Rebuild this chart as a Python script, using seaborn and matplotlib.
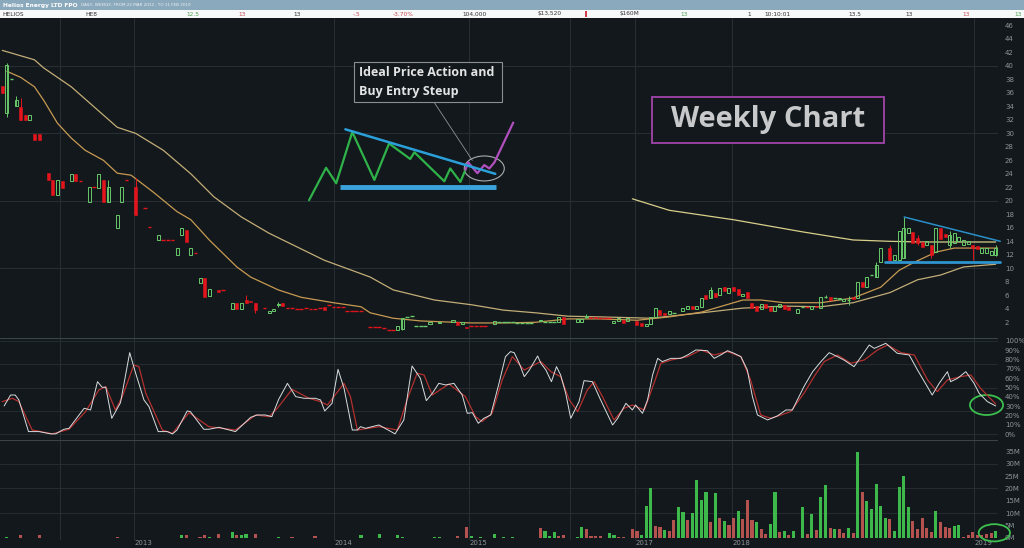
import matplotlib
matplotlib.use("Agg")
import matplotlib.pyplot as plt
from matplotlib.patches import Rectangle, Ellipse
import seaborn as sns

# ==========================
#  DATA (weekly bars, prices in $, volume in millions)
# ==========================
candle_wk = [0, 1, 2, 3, 4, 5, 6, 7, 8, 10, 11, 12, 13, 15, 16, 17, 19, 20, 21, 22, 23, 25, 26, 27, 29,
             31, 32, 34, 35, 36, 37, 38, 39, 40, 41, 42, 43, 44, 45, 47, 48, 50, 51, 52, 53, 54, 55, 57, 58, 59, 60, 61,
             62, 63, 64, 65, 66, 67, 68, 69, 70, 71, 72, 73, 74, 75, 76, 77, 78, 80, 81, 82,
             83, 84, 85, 86, 87, 88, 89, 90, 91, 92, 93, 95, 98, 99, 100, 101,
             102, 103, 104, 105, 107, 108, 109, 110, 111, 112, 113, 114, 115, 117, 118, 119, 120, 121, 122, 125,
             126, 127, 128, 129, 130, 131, 132, 133, 134, 135, 136,
             138, 139, 140, 141, 142, 143, 144, 145, 146, 148, 149, 150, 151, 152, 153, 154, 155, 156, 157, 158,
             159, 160, 161, 162, 163, 164, 165, 166, 167, 168, 169, 170, 171,
             173, 174, 175, 176, 177, 178, 179, 180, 181, 182, 183, 184, 185, 186, 187, 188, 189, 190, 191, 193,
             194, 195, 196, 197, 198, 199, 200, 201, 202, 203, 204, 205, 206, 207, 208, 209, 210, 211, 212, 213,
             214, 215, 216]
candle_open = [37.0, 33.0, 38.0, 34.0, 33.9, 32.7, 32.0, 29.9, 29.9, 24.1, 23.1, 20.8, 22.9, 22.9, 24.0, 22.95, 19.8,
               22.05, 21.9, 23.1, 19.9, 16.0, 19.9, 23.15, 22.0,
               18.95, 16.05, 14.2, 14.15, 14.15, 14.15, 12.0, 14.9, 15.7, 12.0, 12.25, 7.8, 8.6, 5.9, 6.8, 6.85,
               4.0, 4.9, 4.0, 5.3, 5.2, 4.9, 4.05, 3.4, 3.6, 4.5, 4.9,
               4.05, 4.05, 3.95, 3.95, 4.05, 3.95, 3.95, 4.05, 4.2, 4.6, 4.3, 4.3, 4.3, 3.6, 3.6, 3.6, 3.6,
               1.35, 1.35, 1.35, 1.1, 0.8, 0.8, 0.9, 1.0, 2.8, 2.9, 1.5, 1.5, 1.5, 1.8, 1.9, 2.1, 2.0, 1.8, 1.3,
               1.5, 1.5, 1.5, 1.5, 1.8, 2.0, 2.0, 2.0, 2.0, 1.9, 1.9, 1.9, 1.9, 2.2, 2.1, 2.1, 2.1, 2.0, 2.8, 2.0,
               2.1, 2.8, 2.85, 2.85, 2.6, 2.6, 2.6, 1.9, 2.2, 2.4, 2.2,
               2.2, 1.9, 1.4, 1.7, 2.8, 3.8, 3.4, 3.2, 3.4, 3.6, 4.0, 4.4, 4.0, 4.3, 6.0, 5.6, 6.3, 6.0, 7.2, 6.3,
               7.2, 6.9, 5.9, 6.5, 4.8, 4.4, 4.0, 4.7, 4.2, 3.6, 4.3, 4.6, 4.3,
               3.4, 4.3, 4.3, 4.0, 4.4, 4.1, 5.8, 5.8, 5.6, 5.4, 5.2, 5.3, 5.8, 5.6, 8.0, 7.2, 9.0, 8.7, 11.0, 13.0,
               11.2, 11.2, 11.5, 15.2, 15.4, 14.5, 13.9, 13.5, 13.4, 12.4, 15.9, 15.1, 13.5, 13.8, 14.0, 13.5,
               13.6, 13.4, 13.3, 12.2, 12.2, 12.0, 12.0]
candle_close = [36.0, 40.1, 38.05, 35.0, 32.0, 32.0, 32.7, 29.0, 29.0, 23.1, 20.8, 23.1, 21.9, 24.0, 22.9, 22.9, 22.0,
                22.0, 24.0, 19.9, 22.0, 17.9, 22.0, 23.1, 17.9,
                18.9, 16.0, 15.0, 14.1, 14.1, 14.1, 13.0, 16.0, 13.9, 13.0, 12.2, 8.6, 5.8, 6.9, 6.5, 6.8,
                4.9, 4.0, 4.9, 4.9, 5.0, 3.8, 4.0, 3.6, 4.0, 4.7, 4.4,
                4.0, 4.0, 3.9, 3.9, 4.0, 3.9, 3.9, 4.0, 3.8, 4.5, 4.25, 4.25, 4.25, 3.55, 3.55, 3.55, 3.55,
                1.3, 1.3, 1.3, 1.0, 0.75, 0.75, 1.5, 2.6, 2.85, 2.95, 1.55, 1.55, 1.55, 2.0, 2.1, 2.3, 1.6, 2.0, 1.1,
                1.45, 1.45, 1.45, 1.45, 2.2, 2.05, 2.05, 2.05, 2.05, 1.95, 1.95, 1.95, 1.95, 2.4, 2.15, 2.15, 2.15,
                2.8, 1.8, 2.5,
                2.5, 2.95, 2.7, 2.7, 2.55, 2.55, 2.55, 2.2, 2.6, 1.9, 2.6,
                1.6, 1.5, 1.7, 2.8, 4.1, 3.1, 3.1, 3.7, 3.45, 4.1, 4.4, 4.0, 4.4, 5.6, 5.4, 6.8, 5.7, 7.1, 6.6, 7.1,
                6.6, 6.0, 6.2, 5.6, 4.1, 3.7, 4.7, 4.1, 3.7, 4.4, 4.7, 3.9, 3.8,
                4.0, 4.35, 4.25, 4.4, 4.2, 5.7, 5.85, 5.3, 5.65, 5.6, 5.4, 5.35, 5.4, 8.0, 7.3, 8.7, 9.05, 10.5,
                13.0, 11.2,
                12.0, 15.6, 16.0, 15.9, 13.7, 13.8, 13.2, 14.0, 12.0, 15.9, 14.4, 14.6, 15.0, 15.3, 14.7, 14.2,
                14.0, 13.0, 12.8, 13.0, 13.0, 12.5, 13.0]

wick_wk = [1, 3, 4, 23, 29, 53, 55, 60, 87, 127, 154, 179, 184, 190, 193, 196, 199, 202, 206, 211, 216]
wick_hi = [40.5, 35.5, 35.2, 23.1, 23.4, 6.0, 4.9, 5.0, 2.6, 3.3, 7.3, 6.0, 5.9, 10.9, 13.5, 17.6, 15.0, 13.4,
           15.5, 13.4, 13.5]
wick_lo = [32.5, 34.0, 32.0, 19.9, 17.9, 4.9, 3.4, 4.3, 0.9, 2.6, 5.6, 5.6, 4.6, 8.7, 11.0, 11.5, 13.5, 11.5,
           13.0, 11.2, 11.8]

ma_fast_wk = [1, 4, 7, 9, 12, 15, 18, 22, 25, 28, 33, 38, 41, 45, 51, 54, 60, 65, 72, 78, 80, 85, 91, 102,
              109, 116, 123, 130, 138, 145, 152, 158, 161, 165, 170, 178, 185, 191, 195, 198, 203, 207, 212, 217]
ma_fast = [39.2, 38.3, 36.9, 34.9, 31.5, 29.3, 27.5, 26.0, 24.1, 23.8, 21.2, 18.4, 17.2, 14.2, 10.2, 8.7, 6.8,
           5.7, 4.9, 4.3, 3.4, 2.6, 2.2, 1.9, 1.9, 2.0, 2.5, 2.5, 2.3, 2.8, 3.5, 4.7, 5.3, 5.3, 4.9, 4.9, 5.6,
           7.2, 9.7, 10.8, 12.4, 13.0, 13.0, 13.0]
ma_slow_wk = [0, 7, 9, 15, 20, 25, 29, 35, 41, 46, 52, 58, 64, 70, 76, 80, 85, 94, 102, 109, 116, 123, 130,
              141, 152, 161, 170, 178, 185, 193, 199, 204, 209, 216]
ma_slow = [42.3, 40.9, 39.7, 36.9, 33.9, 30.9, 30.0, 27.5, 24.0, 20.6, 17.6, 15.2, 13.2, 11.2, 9.7, 8.7, 6.8,
           5.3, 4.6, 3.8, 3.4, 2.9, 2.8, 2.6, 3.4, 4.1, 4.4, 4.3, 4.9, 6.4, 8.3, 9.0, 10.2, 10.6]
ma_long_wk = [137, 145, 159, 174, 185, 193, 200, 207, 216]
ma_long = [20.3, 18.6, 17.2, 15.4, 14.2, 14.0, 13.9, 13.9, 13.9]

stoch_k_wk = [0.4, 1.8, 2.8, 3.6, 5.7, 8.0, 10.5, 11.6, 13.4, 14.5,
              17.8, 19.2, 20.7, 21.7, 22.5, 23.8, 25.7, 27.7, 29.0, 30.8,
              31.9, 33.9, 35.9, 37.0, 38.0, 40.2, 40.9, 43.8, 44.9, 47.1,
              50.7, 54.0, 55.4, 57.2, 58.6, 60.1, 62.0, 63.8, 65.6, 68.1,
              69.2, 70.1, 71.7, 73.0, 74.3, 76.1, 77.2, 77.9, 79.0, 80.4,
              81.9, 85.4, 87.3, 89.1, 90.9, 92.2, 93.5, 94.9, 96.4, 98.2,
              100.0, 101.1, 102.2, 103.5, 104.7, 106.2, 108.0, 109.4, 110.5, 111.3,
              112.4, 113.5, 114.6, 116.4, 117.1, 118.2, 119.4, 120.5, 121.4, 122.5,
              123.6, 125.4, 126.5, 128.3, 130.1, 132.7, 133.8, 135.6, 137.0, 137.7,
              139.2, 140.3, 141.4, 142.5, 143.5, 145.4, 147.5, 149.0, 150.8, 153.3,
              154.8, 156.2, 157.7, 159.1, 160.6, 162.0, 163.1, 164.2, 166.4, 168.5,
              170.4, 171.8, 174.3, 176.2, 178.0, 179.8, 181.6, 183.0, 185.2, 187.0,
              188.5, 189.6, 192.1, 194.6, 197.2, 199.0, 202.2, 203.7, 205.5, 206.2,
              207.7, 209.5, 211.3, 212.4, 214.2, 216.0]
stoch_k = [30.4, 42.1, 42.1, 36.8, 2.9, 2.9, 0.5, 0.5, 5.4, 6.4,
           27.9, 26.1, 56.4, 50.4, 50.4, 17.1, 33.9, 87.5, 65.4, 36.8,
           29.6, 2.9, 2.9, 0.4, 4.6, 25.0, 24.3, 5.4, 5.4, 7.5,
           2.9, 18.2, 20.7, 20.7, 18.9, 37.5, 54.6, 40.4, 38.6, 38.6,
           36.8, 25.0, 33.2, 69.6, 49.3, 4.6, 4.6, 8.2, 6.4, 8.2,
           10.0, 0.5, 15.4, 73.2, 60.0, 36.1, 43.9, 54.6, 52.9, 54.6,
           42.1, 22.5, 23.2, 11.8, 17.1, 20.7, 54.6, 83.2, 88.6, 87.5,
           76.1, 61.8, 68.9, 83.9, 76.1, 68.9, 56.4, 72.5, 63.6, 43.9,
           17.1, 35.0, 57.5, 56.4, 36.8, 10.0, 17.1, 33.2, 26.1, 31.4,
           22.5, 36.8, 63.6, 81.4, 77.9, 81.4, 81.4, 85.0, 90.4, 89.6,
           81.4, 85.0, 89.6, 86.8, 83.2, 68.9, 40.4, 20.7, 15.4, 19.6,
           26.1, 26.1, 51.1, 67.1, 77.9, 87.5, 83.2, 79.6, 72.5, 85.0,
           95.7, 92.1, 97.5, 86.8, 85.0, 68.9, 42.1, 54.6, 67.1, 56.4,
           60.0, 67.1, 54.6, 43.9, 35.0, 30.4]
stoch_d_wk = [0, 2.2, 3.6, 6.5, 10.9, 14.5, 18.1, 21.0, 22.5, 24.6,
              26.1, 28.6, 29.7, 31.2, 34.8, 37.0, 40.6, 44.9, 50.7, 55.1,
              58.0, 59.8, 63.0, 66.7, 69.2, 70.7, 74.3, 75.7, 77.2, 81.9,
              85.9, 88.0, 90.2, 91.7, 93.5, 97.1, 100.7, 102.9, 104.3, 106.5,
              108.7, 110.9, 113.5, 115.6, 117.1, 119.3, 121.4, 123.3, 125.1, 127.2,
              128.7, 130.5, 133.0, 135.2, 137.0, 139.6, 141.7, 143.2, 145.4, 149.0,
              151.9, 154.8, 157.7, 160.6, 162.7, 164.9, 167.1, 169.3, 171.4, 174.3,
              176.5, 178.7, 181.6, 184.5, 187.4, 190.3, 192.5, 195.4, 198.3, 201.2,
              203.3, 205.5, 208.4, 210.6, 212.7, 216.0]
stoch_d = [35.0, 38.6, 35.0, 4.6, 0.5, 5.4, 24.3, 47.5, 51.1, 26.1,
           40.4, 74.3, 72.5, 43.9, 4.6, 1.1, 23.2, 8.2, 4.6, 20.7,
           18.9, 27.9, 48.2, 38.6, 35.0, 31.4, 54.6, 40.4, 4.6, 8.2,
           4.6, 36.8, 65.4, 63.6, 42.1, 53.9, 40.4, 18.9, 13.6, 22.5,
           58.2, 83.2, 68.9, 74.3, 77.9, 67.1, 61.8, 36.8, 24.3, 47.5,
           56.4, 40.4, 15.4, 27.9, 31.4, 26.1, 54.6, 76.1, 79.6, 83.2,
           90.4, 85.0, 88.6, 83.2, 58.2, 20.7, 17.1, 20.7, 24.3, 43.9,
           61.8, 77.9, 85.0, 76.1, 79.6, 90.4, 95.7, 87.5, 85.0, 58.2,
           45.7, 58.2, 61.8, 63.6, 49.3, 32.5]

vol_wk = [1, 4, 8, 25, 39, 40, 43, 44, 45, 47, 50, 51, 52, 53, 55, 60, 63, 68, 78, 82, 86, 87, 94, 95, 99,
          101, 102, 104, 107, 109, 111,
          117, 118, 119, 120, 121, 122, 125, 126, 127, 128, 129, 130, 132, 133, 134, 135, 137, 138, 139,
          140, 141, 142, 143, 144, 145, 146, 147, 148, 149, 150, 151, 152, 153, 154, 155, 156, 157, 158, 159,
          160, 161, 162, 163, 164, 165, 166, 167, 168, 169, 170, 171, 172, 174, 175, 176, 177, 178, 179, 180,
          181, 182, 183, 184, 185, 186, 187, 188, 189, 190, 191, 192, 193, 194, 195, 196, 197, 198, 199, 200,
          201, 202, 203, 204, 205, 206, 207, 208, 209, 210, 211, 212, 213, 214, 215, 216]
vol_m = [0.3, 1.1, 1.1, 0.3, 1.1, 1.1, 0.3, 1.1, 0.2, 1.6, 2.3, 1.1, 1.1, 1.4, 1.6, 0.3, 0.3, 0.7, 1.1, 1.6,
         1.1, 0.3, 0.4, 0.4, 0.7, 4.4, 0.7, 0.4, 1.6, 0.4, 0.4,
         3.8, 2.7, 0.7, 2.3, 0.7, 1.0, 0.3, 4.4, 3.7, 0.7, 0.7, 0.7, 1.9, 1.0, 0.3, 0.3, 3.7, 2.7, 1.1,
         12.7, 20.1, 4.8, 4.4, 3.0, 2.7, 7.1, 12.3, 10.3, 7.1, 9.9, 23.6, 15.3, 18.5, 6.4, 18.2, 8.2, 6.6, 5.1,
         8.2, 11.0, 7.5, 15.3, 7.1, 6.4, 3.7, 1.4, 5.5, 18.5, 2.3, 2.7, 1.1, 2.7, 12.3, 1.6, 9.6, 3.0, 16.4,
         21.6, 4.1, 3.4, 3.7, 2.1, 3.8, 2.1, 34.7, 18.5, 14.8, 11.6, 21.9, 12.7, 8.2, 7.8, 2.7, 20.5, 24.9,
         12.6, 6.6, 3.7, 8.2, 3.8, 2.3, 11.0, 6.4, 4.4, 3.8, 4.8, 5.2, 0.2, 1.1, 2.3, 1.1, 1.1, 1.6, 2.1, 2.7]
vol_up = [1, 0, 0, 0, 1, 0, 0, 0, 1, 0, 1, 0, 1, 1, 0, 1, 0, 0, 1, 1, 1, 1, 1, 1, 0, 0, 1, 1, 1, 1, 1,
          0, 1, 1, 1, 0, 0, 1, 1, 0, 0, 0, 0, 1, 1, 0, 0, 0, 0, 1,
          1, 1, 0, 0, 1, 0, 0, 1, 1, 0, 1, 1, 1, 1, 0, 1, 0, 1, 0, 0,
          1, 0, 0, 0, 1, 0, 0, 1, 1, 0, 1, 0, 1, 1, 0, 1, 0, 1, 1, 0,
          1, 0, 0, 1, 0, 1, 0, 1, 1, 1, 1, 1, 0, 1, 1, 1, 1, 0, 0, 0,
          0, 0, 1, 0, 0, 0, 1, 1, 0, 0, 0, 0, 0, 0, 0, 1]

year_pos = [12.6, 28.7, 72.2, 101.5, 123.5, 137.6, 158.7, 211.3]
year_lab = ["", "2013", "2014", "2015", "", "2017", "2018", "2019"]

# hand-drawn "ideal setup" sketch on the chart (week, price)
sketch_green_wk = [66.7, 70.4, 72.6, 76.1, 80.9, 84.1, 88.7, 89.6, 96.1, 97.4, 99.6, 100.7]
sketch_green_p = [20.1, 24.9, 22.6, 30.2, 23.1, 28.5, 26.2, 27.2, 22.9, 24.8, 22.8, 24.6]
sketch_purple_wk = [100.7, 101.3, 103.3, 104.8, 105.9, 107.0, 111.1]
sketch_purple_p = [24.6, 25.7, 24.1, 25.3, 24.8, 25.7, 31.6]

header_labels = ["HELIOS", "HE8", "12.5", "13", "13", "-.5", "-3.70%", "104,000", "$13,520", "$160M",
                 "13", "1", "10:10:01", "13.5", "13", "13", "13"]
header_colors = ["#333", "#333", "#4f9f4f", "#c84a55", "#333", "#c84a55", "#c84a55", "#333", "#333", "#333",
                 "#4f9f4f", "#333", "#333", "#333", "#333", "#c84a55", "#4f9f4f"]
header_x = [2, 85, 186, 238, 293, 353, 393, 462, 538, 620, 680, 747, 764, 848, 905, 962, 1014]

assert len(candle_wk) == len(candle_open) == len(candle_close)
assert len(vol_wk) == len(vol_m) == len(vol_up)

# ==========================
#  STYLE
# ==========================
BG = "#12181b"
GRID = "#283035"
TXT = "#8d9498"
GREEN = "#67c96a"
RED = "#e3141c"
VGREEN = "#3db94c"
VRED = "#b4524f"

sns.set_style("dark", {"axes.facecolor": BG, "figure.facecolor": BG})
plt.rcParams["font.family"] = ["DejaVu Sans"]

W, H = 1024, 548
fig = plt.figure(figsize=(W / 100, H / 100), dpi=100, facecolor=BG)


def panel(top, bottom):
    return [0, 1 - bottom / H, 998 / W, (bottom - top) / H]


ax_p = fig.add_axes(panel(18, 338))
ax_s = fig.add_axes(panel(338, 440), sharex=ax_p)
ax_v = fig.add_axes(panel(440, 540), sharex=ax_p)

for ax in (ax_p, ax_s, ax_v):
    ax.set_facecolor(BG)
    for s in ax.spines.values():
        s.set_visible(False)
    ax.yaxis.tick_right()
    ax.tick_params(axis="y", length=0, labelsize=5, labelcolor=TXT, pad=5)
    ax.tick_params(axis="x", length=0, labelsize=5, labelcolor=TXT, pad=0)
    for xp in year_pos:
        ax.axvline(xp, color=GRID, lw=0.7, zorder=0)
    ax.grid(False)
ax_s.axhline(103.2, color="#3a4347", lw=0.8)
ax_v.axhline(39.7, color="#3a4347", lw=0.8)

# ==========================
#  PRICE PANEL
# ==========================
ax_p.set_xlim(-0.5, 216.5)
ax_p.set_ylim(-0.33, 47.1)
ax_p.set_yticks(range(2, 47, 2))
ax_p.tick_params(labelbottom=False)
for lvl in (10, 20, 30, 40):
    ax_p.axhline(lvl, color=GRID, lw=0.7, zorder=0)

sns.lineplot(x=ma_slow_wk, y=ma_slow, ax=ax_p, color="#c3ad78", lw=0.9, sort=False, estimator=None)
sns.lineplot(x=ma_fast_wk, y=ma_fast, ax=ax_p, color="#c79a52", lw=0.9, sort=False, estimator=None)
sns.lineplot(x=ma_long_wk, y=ma_long, ax=ax_p, color="#d8cf8a", lw=0.9, sort=False, estimator=None)

colour_of = {}
for w, o, c in zip(candle_wk, candle_open, candle_close):
    col = GREEN if c >= o else RED
    colour_of[w] = col
    if abs(c - o) < 0.12:
        ax_p.hlines(o, w - 0.42, w + 0.42, color=col, lw=1.0, zorder=3)
    elif c > o:
        ax_p.add_patch(Rectangle((w - 0.33, o), 0.66, c - o, facecolor="none", edgecolor=col, lw=0.7, zorder=3))
    else:
        ax_p.add_patch(Rectangle((w - 0.33, c), 0.66, o - c, facecolor=col, edgecolor=col, lw=0.4, zorder=3))
ax_p.vlines(wick_wk, wick_lo, wick_hi, colors=[colour_of[w] for w in wick_wk], lw=0.7, zorder=2)

# ideal set-up sketch
sns.lineplot(x=sketch_green_wk, y=sketch_green_p, ax=ax_p, color="#2fb24a", lw=1.6, sort=False, estimator=None)
sns.lineplot(x=sketch_purple_wk, y=sketch_purple_p, ax=ax_p, color="#b24fc0", lw=1.6, sort=False, estimator=None)
ax_p.plot([74.6, 107.2], [30.6, 24.0], color="#2a9fd8", lw=1.8)
ax_p.plot([73.5, 107.4], [22.0, 22.0], color="#3aa3dc", lw=3.5, solid_capstyle="butt")
ax_p.add_patch(Ellipse((104.8, 24.8), 8.7, 3.7, fill=False, edgecolor="#a9adb0", lw=0.8))
ax_p.plot([93.9, 102.2], [34.6, 26.0], color="#8f9498", lw=0.6)
ax_p.add_patch(Rectangle((76.5, 34.6), 32.2, 6.0, facecolor=BG, edgecolor="#8a8f92", lw=0.8, zorder=4))
ax_p.text(77.6, 37.6, "Ideal Price Action and\nBuy Entry Steup", fontsize=9, fontweight="bold",
          family=["Open Sans", "DejaVu Sans"], color="#e2e4e5", va="center", ha="left",
          linespacing=1.55, zorder=5)

# right-hand triangle
ax_p.plot([196.1, 217.0], [17.6, 14.0], color="#2a8fc8", lw=1.1, clip_on=False)
ax_p.plot([192.0, 217.0], [10.9, 10.9], color="#2f95cf", lw=2.0, clip_on=False)

# Weekly chart label
ax_p.add_patch(Rectangle((141.3, 28.6), 50.4, 6.8, facecolor=BG, edgecolor="#a444ac", lw=1.3, zorder=4))
ax_p.text(166.5, 32.0, "Weekly Chart", fontsize=21, fontweight="bold", family=["Open Sans", "DejaVu Sans"],
          color="#c8c9ca", ha="center", va="center", zorder=5)

# ==========================
#  STOCHASTIC PANEL
# ==========================
ax_s.set_ylim(-6.1, 103.2)
ax_s.set_yticks(range(0, 101, 10))
ax_s.set_yticklabels([f"{v}%" for v in range(0, 101, 10)])
ax_s.tick_params(labelbottom=False)
for lvl in (0, 25, 50, 75, 100):
    ax_s.axhline(lvl, color=GRID, lw=0.6, zorder=0)
sns.lineplot(x=stoch_d_wk, y=stoch_d, ax=ax_s, color="#b3302f", lw=0.9, sort=False, estimator=None)
sns.lineplot(x=stoch_k_wk, y=stoch_k, ax=ax_s, color="#d9dde0", lw=0.7, sort=False, estimator=None)
ax_s.add_patch(Ellipse((214.0, 31.4), 7.2, 21.4, fill=False, edgecolor="#3cc04e", lw=1.3, clip_on=False))

# ==========================
#  VOLUME PANEL
# ==========================
ax_v.set_ylim(-0.93, 39.7)
ax_v.set_yticks(range(0, 36, 5))
ax_v.set_yticklabels([f"{v}M" for v in range(0, 36, 5)])
for lvl in (10, 20, 30):
    ax_v.axhline(lvl, color=GRID, lw=0.6, zorder=0)
ax_v.bar(vol_wk, vol_m, width=0.68, color=[VGREEN if u else VRED for u in vol_up],
         edgecolor="none", linewidth=0, zorder=3)
ax_v.add_patch(Ellipse((215.7, 2.0), 6.8, 7.0, fill=False, edgecolor="#3cc04e", lw=1.3, clip_on=False, zorder=4))
ax_v.set_xticks(year_pos)
ax_v.set_xticklabels(year_lab, ha="left")
ax_v.set_xlabel("")

# ==========================
#  HEADER STRIP
# ==========================
fig.patches.append(Rectangle((0, 1 - 10 / H), 1, 10 / H, transform=fig.transFigure,
                             facecolor="#8aa9bc", edgecolor="none"))
fig.patches.append(Rectangle((0, 1 - 18 / H), 1, 8 / H, transform=fig.transFigure,
                             facecolor="#f7f8f8", edgecolor="none"))
fig.text(3 / W, 1 - 5 / H, "Helios Energy LTD FPO", fontsize=4.2, fontweight="bold", color="white", va="center")
fig.text(81 / W, 1 - 5 / H, "DAILY, WEEKLY, FROM 22 MAR 2012 , TO 11 FEB 2019", fontsize=3.0,
         color="#eef2f5", va="center")
for lab, col, xp in zip(header_labels, header_colors, header_x):
    fig.text(xp / W, 1 - 14 / H, lab, fontsize=4.2, color=col, va="center", ha="left")
fig.patches.append(Rectangle((585 / W, 1 - 17 / H), 2 / W, 6 / H, transform=fig.transFigure,
                             facecolor="#d04050", edgecolor="none"))

fig.savefig("out.png", dpi=100, facecolor=BG)
